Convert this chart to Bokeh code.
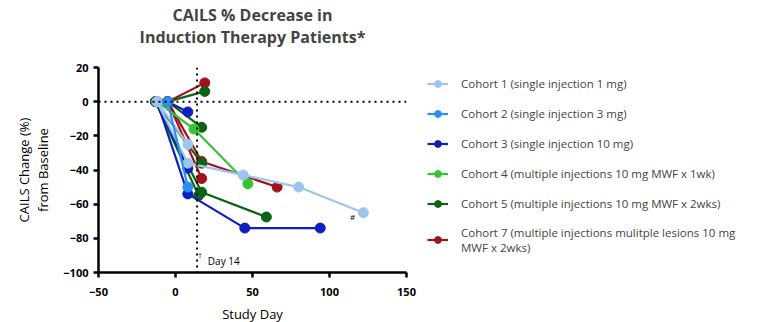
from bokeh.plotting import figure
from bokeh.models import Range1d, Span, Legend, LegendItem, Title, FixedTicker
from bokeh.core.properties import value
from bokeh.embed import file_html
from bokeh.resources import INLINE

FONT = "Open Sans"

# Study day and % change from baseline for each patient, grouped by cohort
cohort1_days = [[-12, 8], [-12, 8, 44, 80, 122]]
cohort1_pct = [[0, -25], [0, -36, -43, -50, -65]]

cohort2_days = [[-5, 8]]
cohort2_pct = [[0, -50]]

cohort3_days = [[-5, 8], [-12, 8], [-12, 8, 45, 94]]
cohort3_pct = [[0, -6], [0, -39], [0, -54, -74, -74]]

cohort4_days = [[-12, 12, 47]]
cohort4_pct = [[0, -16, -48]]

cohort5_days = [[-5, 19], [-5, 17], [-13, 17], [-13, 17, 59], [-13, 15]]
cohort5_pct = [[0, 6], [0, -15], [0, -36], [0, -53, -67.5], [0, -55]]

cohort7_days = [[-5, 19], [-5, 17], [-5, 17, 66]]
cohort7_pct = [[0, 11], [0, -45], [0, -35, -50]]

cohort_labels = [
    "Cohort 1 (single injection 1 mg)",
    "Cohort 2 (single injection 3 mg)",
    "Cohort 3 (single injection 10 mg)",
    "Cohort 4 (multiple injections 10 mg MWF x 1wk)",
    "Cohort 5 (multiple injections 10 mg MWF x 2wks)",
    "Cohort 7 (multiple injections mulitple lesions 10 mg\nMWF x 2wks)",
]
cohort_colors = ["#9fc5ef", "#2b8ff0", "#0c1fbf", "#35c435", "#0d6216", "#a3111a"]

x_ticks = [-50, 0, 50, 100, 150]
y_ticks = [-100, -80, -60, -40, -20, 0, 20]
day_marker = 14

note_x = [115]
note_y = [-67]
note_text = ["#"]
dagger_x = [16]
dagger_y = [-90]
dagger_text = ["\u2020"]
day_label_x = [21]
day_label_y = [-93.3]
day_label_text = ["Day 14"]

p = figure(frame_width=308, frame_height=205, output_backend="svg",
           toolbar_location=None,
           x_range=Range1d(-50, 150), y_range=Range1d(-100, 20),
           min_border_left=98, min_border_right=360, min_border_top=67,
           min_border_bottom=50)
p.outline_line_color = None
p.grid.visible = False
p.background_fill_color = "white"
p.border_fill_color = "white"

# reference lines at baseline and day 14
p.add_layout(Span(location=0, dimension="width", line_color="black",
                  line_width=2, line_dash="2 4"))
p.add_layout(Span(location=day_marker, dimension="height", line_color="black",
                  line_width=2, line_dash="2 4"))

series = [
    (cohort1_days, cohort1_pct),
    (cohort2_days, cohort2_pct),
    (cohort3_days, cohort3_pct),
    (cohort4_days, cohort4_pct),
    (cohort5_days, cohort5_pct),
    (cohort7_days, cohort7_pct),
]

renderers = [None] * len(series)
for idx in [5, 4, 3, 2, 0, 1]:
    days, pct = series[idx]
    color = cohort_colors[idx]
    ml = p.multi_line(xs=days, ys=pct, line_color=color, line_width=2.2)
    flat_x = [d for row in days for d in row]
    flat_y = [v for row in pct for v in row]
    sc = p.scatter(x=flat_x, y=flat_y, size=10, fill_color=color, line_color=color)
    renderers[idx] = [ml, sc]

p.text(x=note_x, y=note_y, text=note_text, text_font=value(FONT),
       text_font_size="8px", text_align="center", text_baseline="middle")
p.text(x=dagger_x, y=dagger_y, text=dagger_text, text_font=value(FONT),
       text_font_size="7px", text_align="center", text_baseline="middle")
p.text(x=day_label_x, y=day_label_y, text=day_label_text, text_font=value(FONT),
       text_font_size="10px", text_align="left", text_baseline="middle")

# axes
for ax in (p.xaxis[0], p.yaxis[0]):
    ax.axis_line_width = 2.5
    ax.major_tick_line_width = 2.5
    ax.major_tick_out = 5
    ax.major_tick_in = 0
    ax.minor_tick_line_color = None
    ax.major_label_text_font = FONT
    ax.major_label_text_font_style = "bold"
    ax.major_label_text_font_size = "11px"
    ax.major_label_text_color = "black"
    ax.axis_label_text_font = FONT
    ax.axis_label_text_font_style = "normal"
    ax.axis_label_text_font_size = "13px"
    ax.axis_label_text_color = "black"

p.xaxis[0].ticker = FixedTicker(ticks=x_ticks)
p.yaxis[0].ticker = FixedTicker(ticks=y_ticks)
p.xaxis[0].axis_label = "Study Day"
p.xaxis[0].major_label_standoff = 10
p.xaxis[0].axis_label_standoff = 6
p.yaxis[0].axis_label = "CAILS Change (%)\nfrom Baseline"
p.yaxis[0].axis_label_text_line_height = 1.1
p.yaxis[0].major_label_standoff = 5
p.yaxis[0].axis_label_standoff = 8

# two-line title, the lower line is added first so it sits next to the frame
p.add_layout(Title(text="Induction Therapy Patients*", align="center",
                   text_font=FONT, text_font_size="16px", text_font_style="bold",
                   standoff=39), "above")
p.add_layout(Title(text="CAILS % Decrease in", align="center",
                   text_font=FONT, text_font_size="16px", text_font_style="bold",
                   standoff=-42), "above")

legend = Legend(
    items=[LegendItem(label=cohort_labels[i], renderers=renderers[i])
           for i in range(len(series))],
    location=(21, 17.5), margin=0, padding=0, spacing=13,
    glyph_width=21, glyph_height=17, label_height=17, label_standoff=13,
    label_text_font=FONT, label_text_font_size="11.5px",
    label_text_line_height=2.1,
    border_line_color=None, background_fill_alpha=0,
)
p.add_layout(legend, "right")

open("out.html", "w").write(file_html(p, INLINE))
